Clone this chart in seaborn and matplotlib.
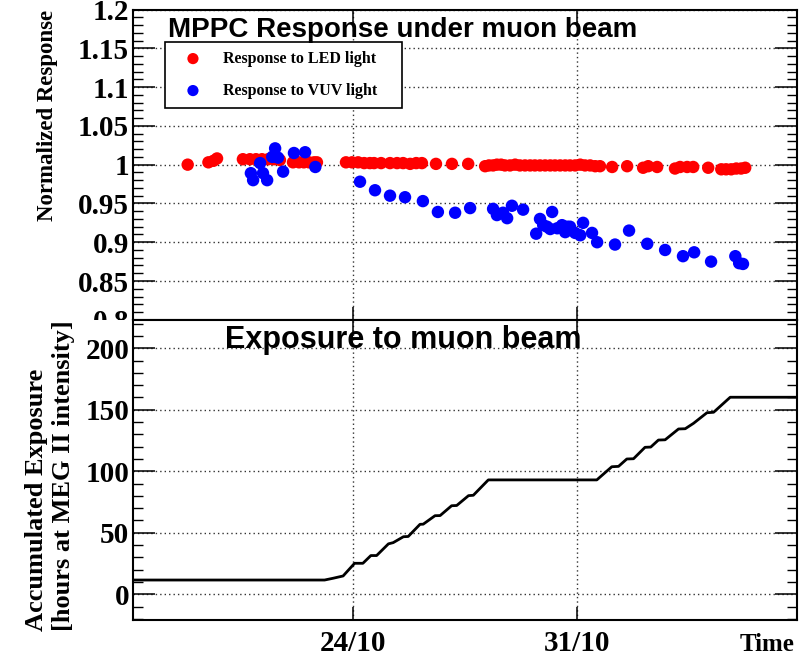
import matplotlib
matplotlib.use("Agg")
import matplotlib.pyplot as plt
import seaborn as sns
import pandas as pd
from matplotlib.ticker import MultipleLocator, FixedLocator, FuncFormatter
from matplotlib.patches import Rectangle

# ---------------- data (x in days of October) ----------------
led_day = [18.81, 19.46, 19.62, 19.73,
           20.54, 20.76, 20.95, 21.14, 21.33, 21.51, 21.70,
           22.11, 22.30, 22.45, 22.61, 22.77, 22.86,
           23.77, 23.96, 24.15, 24.34, 24.52,
           24.65, 24.87, 25.15, 25.37, 25.56, 25.78, 25.97, 26.15, 26.59, 27.09, 27.60,
           28.13, 28.25, 28.38, 28.50, 28.63, 28.75, 28.91, 29.07, 29.22, 29.38, 29.54,
           29.69, 29.85, 30.01, 30.17, 30.32, 30.48, 30.64, 30.79, 30.95, 31.11, 31.26,
           31.42, 31.58, 31.73,
           32.11, 32.58, 33.08, 33.24, 33.52, 34.08, 34.24, 34.46, 34.65, 35.12,
           35.53, 35.68, 35.84, 36.00, 36.15, 36.28]
led_resp = [1.000, 1.003, 1.005, 1.008,
            1.007, 1.007, 1.007, 1.007, 1.007, 1.007, 1.006,
            1.003, 1.003, 1.003, 1.003, 1.003, 1.003,
            1.003, 1.003, 1.003, 1.002, 1.002,
            1.002, 1.002, 1.002, 1.002, 1.002, 1.001, 1.002, 1.002, 1.001, 1.001, 1.001,
            0.998, 0.999, 0.999, 1.000, 1.000, 0.999, 0.999, 1.000, 0.999, 0.999, 0.999,
            0.999, 0.999, 0.999, 0.999, 0.999, 0.999, 0.999, 0.999, 0.999, 1.000, 0.999,
            0.999, 0.998, 0.998,
            0.997, 0.998, 0.996, 0.998, 0.997, 0.995, 0.997, 0.997, 0.997, 0.996,
            0.994, 0.994, 0.994, 0.995, 0.995, 0.996]

vuv_day = [20.79, 20.86, 21.08, 21.17, 21.30, 21.46, 21.55, 21.64, 21.80, 22.14, 22.49, 22.81,
           24.21, 24.68, 25.15, 25.62, 26.18, 26.65, 27.19, 27.66,
           28.38, 28.50, 28.69, 28.82, 28.97, 29.32, 29.73, 29.85, 29.95, 30.07,
           30.17, 30.23, 30.39, 30.54, 30.64, 30.70, 30.79, 30.95, 31.11, 31.20,
           31.48, 31.64, 32.20, 32.64, 33.21, 33.77, 34.33, 34.68, 35.21, 35.97, 36.09, 36.21]
vuv_resp = [0.989, 0.980, 1.002, 0.989, 0.980, 1.010, 1.021, 1.009, 0.991, 1.015, 1.016, 0.997,
            0.978, 0.967, 0.960, 0.958, 0.953, 0.939, 0.938, 0.944,
            0.943, 0.935, 0.938, 0.931, 0.947, 0.942, 0.911, 0.930, 0.922, 0.920,
            0.917, 0.939, 0.918, 0.922, 0.913, 0.920, 0.920, 0.912, 0.909, 0.925,
            0.912, 0.900, 0.897, 0.915, 0.898, 0.890, 0.882, 0.887, 0.875, 0.882, 0.873, 0.872]

exp_day = [17.10, 23.10, 23.36, 23.68, 24.04, 24.30, 24.55, 24.73, 25.10, 25.25,
           25.57, 25.72, 26.09, 26.19, 26.56, 26.72, 27.08, 27.24, 27.61, 27.76,
           28.23, 31.63, 32.10, 32.31, 32.57, 32.78, 33.14, 33.32, 33.56, 33.77,
           34.19, 34.40, 34.66, 35.08, 35.29, 35.81, 37.91]
exp_hours = [11.6, 11.6, 13.0, 14.9, 25.2, 25.2, 31.5, 31.5, 41.0, 42.0,
             46.8, 47.0, 56.9, 57.0, 63.9, 64.0, 72.0, 72.2, 80.2, 80.5,
             93.0, 93.0, 103.7, 104.0, 110.0, 110.2, 119.5, 119.7, 125.4, 125.6,
             134.4, 134.6, 139.0, 147.6, 148.0, 160.2, 160.2]

xtick_days = [24, 31]
xtick_labels = ["24/10", "31/10"]

led_df = pd.DataFrame({"day": led_day, "resp": led_resp})
vuv_df = pd.DataFrame({"day": vuv_day, "resp": vuv_resp})
exp_df = pd.DataFrame({"day": exp_day, "hours": exp_hours})

# ---------------- style ----------------
sns.set_theme(style="white")
plt.rcParams["font.family"] = ["Liberation Serif", "DejaVu Serif"]
plt.rcParams["font.weight"] = "bold"
plt.rcParams["axes.linewidth"] = 1.5
plt.rcParams["axes.edgecolor"] = "black"
plt.rcParams["text.color"] = "black"
plt.rcParams["axes.labelcolor"] = "black"
plt.rcParams["xtick.color"] = "black"
plt.rcParams["ytick.color"] = "black"

W, H = 809, 656
fig = plt.figure(figsize=(W / 100, H / 100), dpi=100)
fig.patch.set_facecolor("white")

L, R = 133.3 / W, 797.3 / W
ax1 = fig.add_axes([L, 1 - 319.8 / H, R - L, (319.8 - 9.5) / H])
ax2 = fig.add_axes([L, 1 - 620 / H, R - L, (620 - 320) / H])
ax1.set_zorder(1)
ax2.set_zorder(3)
# white band that hides the lower part of the top panel's lowest label (pad overlap)
fig.add_artist(Rectangle((0, 0), L, 1 - 320 / H, transform=fig.transFigure,
                         facecolor="white", edgecolor="none", zorder=2))

xlim = (17.106, 37.912)
grid_kw = dict(color="#333333", linestyle=(0, (1, 2.2)), linewidth=1.0)

# ---------------- top panel ----------------
sns.scatterplot(data=led_df, x="day", y="resp", ax=ax1, color="#ff0000", s=80,
                linewidth=0, edgecolor="none", label="Response to LED light", zorder=3)
sns.scatterplot(data=vuv_df, x="day", y="resp", ax=ax1, color="#0000ff", s=80,
                linewidth=0, edgecolor="none", label="Response to VUV light", zorder=4)
ax1.set_xlim(*xlim)
ax1.set_ylim(0.8, 1.2)
ax1.yaxis.set_major_locator(MultipleLocator(0.05))
ax1.yaxis.set_minor_locator(MultipleLocator(0.01))
ax1.yaxis.set_major_formatter(FuncFormatter(lambda v, p: "%g" % round(v, 3)))
ax1.xaxis.set_major_locator(FixedLocator(xtick_days))
ax1.xaxis.set_minor_locator(FixedLocator([]))
ax1.set_xticklabels([])
ax1.set_xlabel("")
ax1.grid(True, which="major", **grid_kw)
ax1.set_ylabel("Normalized Response", loc="top", fontsize=16.5, fontweight="bold",
               family="Liberation Serif", color="black")
ax1.yaxis.set_label_coords((58 - 133.3) / 664, 1.0)

leg_x0 = (165 - 133.3) / 664
leg_y0 = (319.8 - 104) / 310.3
leg_w = (402 - 165) / 664
leg_h = (104 - 42) / 310.3
leg = ax1.legend(loc="upper left", bbox_to_anchor=(leg_x0, leg_y0, leg_w, leg_h),
                 mode="expand", borderaxespad=0, frameon=True, fancybox=False,
                 edgecolor="black", framealpha=1, borderpad=0.55, handlelength=2.4,
                 handletextpad=0.7, labelspacing=1.0, markerscale=0.9,
                 prop={"family": "Liberation Serif", "weight": "bold", "size": 11.5})
leg.get_frame().set_linewidth(1.2)
for t in leg.get_texts():
    t.set_color("black")

# ---------------- bottom panel ----------------
sns.lineplot(data=exp_df, x="day", y="hours", ax=ax2, color="black", linewidth=2.0,
             estimator=None, sort=False)
ax2.set_xlim(*xlim)
ax2.set_ylim(-20.9, 223)
ax2.yaxis.set_major_locator(MultipleLocator(50))
ax2.yaxis.set_minor_locator(MultipleLocator(10))
ax2.xaxis.set_major_locator(FixedLocator(xtick_days))
ax2.xaxis.set_minor_locator(FixedLocator([]))
ax2.set_xticklabels(xtick_labels)
ax2.grid(True, which="major", **grid_kw)
ax2.set_xlabel("")
ax2.set_ylabel("Accumulated Exposure\n[hours at MEG II intensity]", loc="top",
               fontsize=19, fontweight="bold", family="Liberation Serif",
               multialignment="left", linespacing=1.2, color="black")
ax2.yaxis.set_label_coords((75 - 133.3) / 664, 1.0)

for ax in (ax1, ax2):
    ax.set_facecolor("white")
    for sp in ax.spines.values():
        sp.set_linewidth(1.5)
        sp.set_color("black")
    ax.tick_params(axis="y", which="major", direction="in", length=16, width=1.1,
                   left=True, right=True, labelsize=21, pad=3, colors="black")
    ax.tick_params(axis="y", which="minor", direction="in", length=7.5, width=1.0,
                   left=True, right=True, colors="black")
    ax.tick_params(axis="x", which="major", direction="in", length=9.5, width=1.1,
                   top=True, bottom=True, labelsize=21, pad=7, colors="black")
    for lab in ax.get_yticklabels() + ax.get_xticklabels():
        lab.set_fontweight("bold")
        lab.set_family("Liberation Serif")

# ---------------- titles and axis name ----------------
fig.text(168 / W, 1 - 37 / H, "MPPC Response under muon beam", ha="left", va="baseline",
         fontsize=20, fontweight="bold", family="Liberation Sans", color="black", zorder=10)
fig.text(225 / W, 1 - 348 / H, "Exposure to muon beam", ha="left", va="baseline",
         fontsize=22, fontweight="bold", family="Liberation Sans", color="black", zorder=10)
fig.text(795 / W, 1 - 651 / H, "Time", ha="right", va="baseline",
         fontsize=18, fontweight="bold", family="Liberation Serif", color="black", zorder=10)

fig.savefig("out.png", dpi=100, facecolor="white")
